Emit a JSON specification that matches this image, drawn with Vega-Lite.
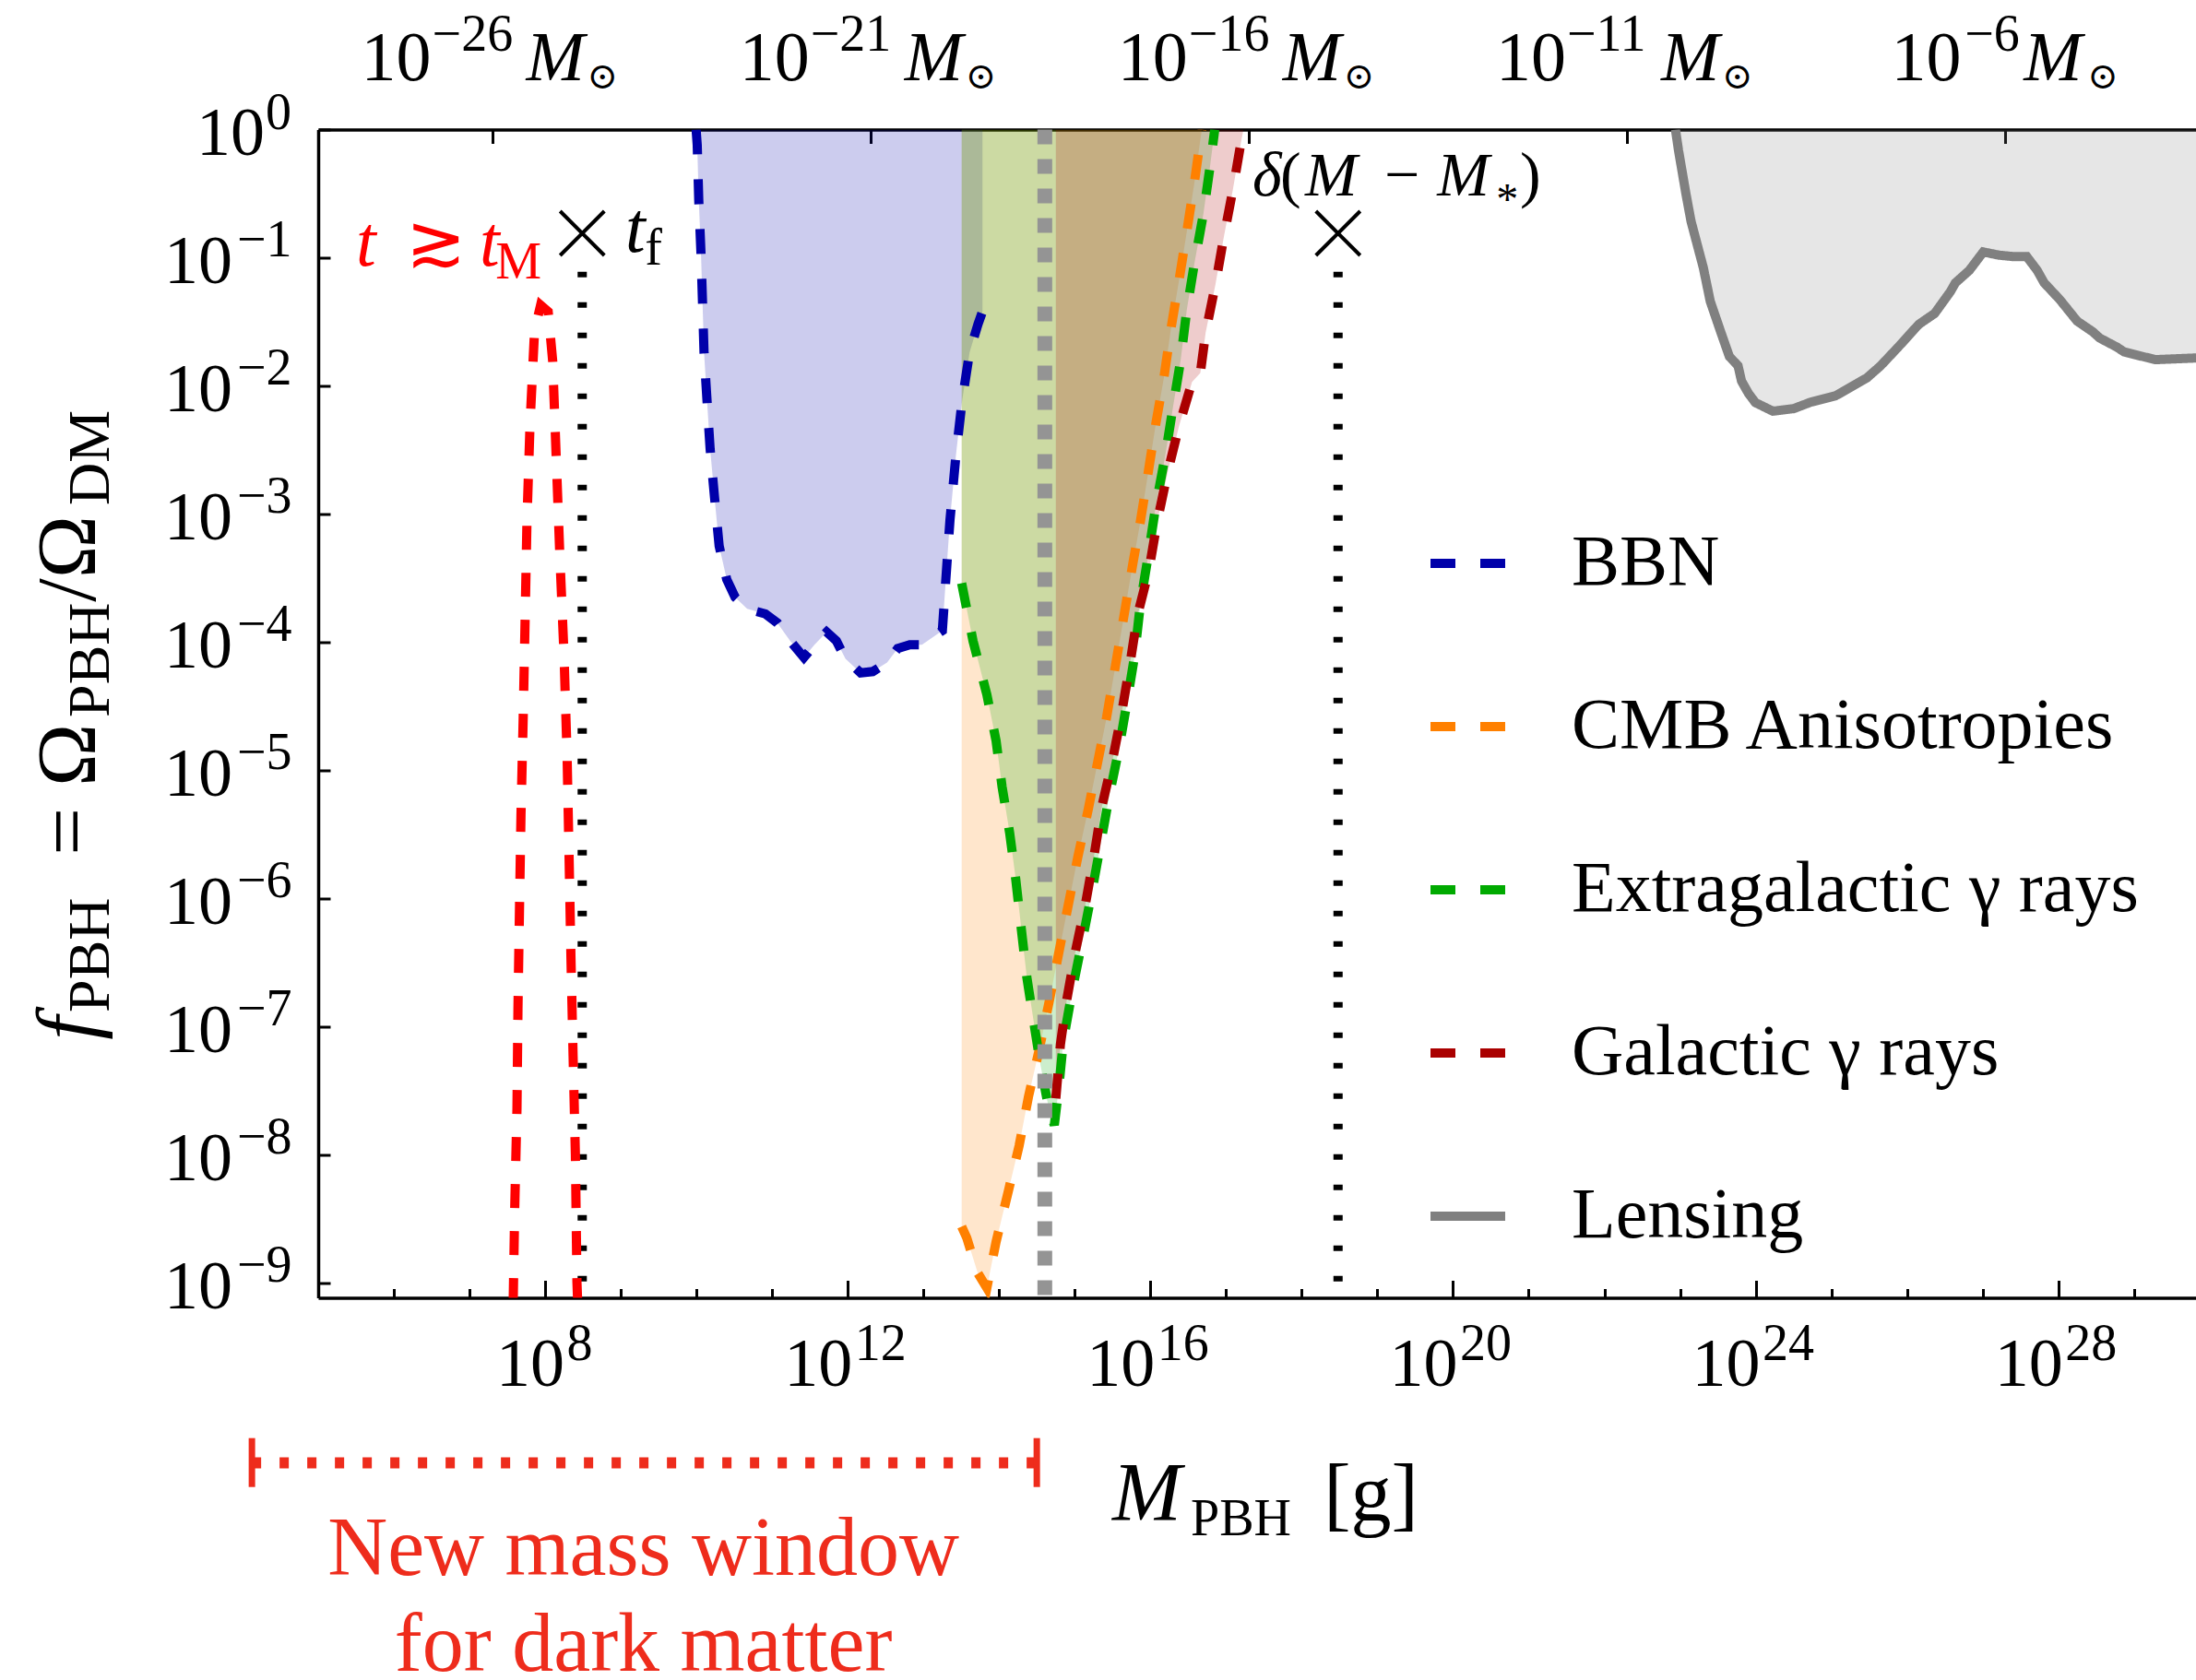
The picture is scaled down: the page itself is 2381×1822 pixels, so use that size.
{
"$schema": "https://vega.github.io/schema/vega-lite/v6.json",
"width": 2036, "height": 1267,
"autosize": {"type": "none"},
"padding": {"left": 345, "top": 140.5, "right": 0, "bottom": 414.5},
"background": "white",
"config": {
  "view": {"stroke": null},
  "font": "Liberation Serif, DejaVu Serif, serif",
  "legend": {"orient": "none", "legendX": 1201, "legendY": 425, "title": null, "symbolType": "stroke", "symbolSize": 6561, "symbolStrokeWidth": 10, "labelFontSize": 78, "labelFont": "Liberation Serif, DejaVu Serif, serif", "labelColor": "black", "rowPadding": 92, "labelOffset": 67, "padding": 0, "labelLimit": 1200}
},
"datasets": {
  "curves": [
    {"series":"BBN","m":9.89e9,"f":1},
    {"series":"BBN","m":1.023e10,"f":0.759},
    {"series":"BBN","m":1.072e10,"f":0.282},
    {"series":"BBN","m":1.148e10,"f":0.107},
    {"series":"BBN","m":1.202e10,"f":0.0447},
    {"series":"BBN","m":1.259e10,"f":0.0182},
    {"series":"BBN","m":1.38e10,"f":0.00759},
    {"series":"BBN","m":1.514e10,"f":0.00324},
    {"series":"BBN","m":1.738e10,"f":0.00132},
    {"series":"BBN","m":1.995e10,"f":0.000562},
    {"series":"BBN","m":2.51e10,"f":0.000309},
    {"series":"BBN","m":3.24e10,"f":0.000224},
    {"series":"BBN","m":4.68e10,"f":0.000182},
    {"series":"BBN","m":8.13e10,"f":0.000166},
    {"series":"BBN","m":1.175e11,"f":0.000141},
    {"series":"BBN","m":1.738e11,"f":0.000102},
    {"series":"BBN","m":2.63e11,"f":7.59e-5},
    {"series":"BBN","m":3.63e11,"f":9.55e-5},
    {"series":"BBN","m":5.25e11,"f":0.00012},
    {"series":"BBN","m":7.08e11,"f":0.000102},
    {"series":"BBN","m":9.33e11,"f":7.41e-5},
    {"series":"BBN","m":1.479e12,"f":5.75e-5},
    {"series":"BBN","m":2.14e12,"f":5.89e-5},
    {"series":"BBN","m":3.31e12,"f":6.92e-5},
    {"series":"BBN","m":4.57e12,"f":8.91e-5},
    {"series":"BBN","m":6.61e12,"f":9.55e-5},
    {"series":"BBN","m":9.55e12,"f":9.55e-5},
    {"series":"BBN","m":1.349e13,"f":0.00011},
    {"series":"BBN","m":1.778e13,"f":0.000123},
    {"series":"BBN","m":1.95e13,"f":0.000275},
    {"series":"BBN","m":2.24e13,"f":0.000891},
    {"series":"BBN","m":2.69e13,"f":0.00288},
    {"series":"BBN","m":3.24e13,"f":0.00759},
    {"series":"BBN","m":4.07e13,"f":0.0182},
    {"series":"BBN","m":5.25e13,"f":0.0302},
    {"series":"BBN","m":6.03e13,"f":0.038},
    {"series":"CMB Anisotropies","m":3.2e13,"f":2.75e-9},
    {"series":"CMB Anisotropies","m":3.74e13,"f":2.24e-9},
    {"series":"CMB Anisotropies","m":5.2e13,"f":1.2e-9},
    {"series":"CMB Anisotropies","m":6.89e13,"f":9.12e-10},
    {"series":"CMB Anisotropies","m":9.12e13,"f":2.09e-9},
    {"series":"CMB Anisotropies","m":1.318e14,"f":5.13e-9},
    {"series":"CMB Anisotropies","m":1.84e14,"f":1.175e-8},
    {"series":"CMB Anisotropies","m":2.44e14,"f":2.82e-8},
    {"series":"CMB Anisotropies","m":3.39e14,"f":6.61e-8},
    {"series":"CMB Anisotropies","m":4.57e14,"f":1.549e-7},
    {"series":"CMB Anisotropies","m":6.17e14,"f":3.8e-7},
    {"series":"CMB Anisotropies","m":8.22e14,"f":8.91e-7},
    {"series":"CMB Anisotropies","m":1.096e15,"f":2.09e-6},
    {"series":"CMB Anisotropies","m":1.514e15,"f":5.01e-6},
    {"series":"CMB Anisotropies","m":2.63e15,"f":2.57e-5},
    {"series":"CMB Anisotropies","m":3.98e15,"f":1.072e-4},
    {"series":"CMB Anisotropies","m":5.89e15,"f":4.17e-4},
    {"series":"CMB Anisotropies","m":7.41e15,"f":8.91e-4},
    {"series":"CMB Anisotropies","m":9.33e15,"f":2.09e-3},
    {"series":"CMB Anisotropies","m":1.175e16,"f":5.01e-3},
    {"series":"CMB Anisotropies","m":1.514e16,"f":0.01175},
    {"series":"CMB Anisotropies","m":1.862e16,"f":0.0275},
    {"series":"CMB Anisotropies","m":2.4e16,"f":0.0676},
    {"series":"CMB Anisotropies","m":3.02e16,"f":0.1585},
    {"series":"CMB Anisotropies","m":3.8e16,"f":0.38},
    {"series":"CMB Anisotropies","m":4.57e16,"f":0.832},
    {"series":"CMB Anisotropies","m":4.79e16,"f":1},
    {"series":"Extragalactic γ rays","m":3.2e13,"f":2.88e-4},
    {"series":"Extragalactic γ rays","m":4.52e13,"f":1.023e-4},
    {"series":"Extragalactic γ rays","m":6.89e13,"f":3.89e-5},
    {"series":"Extragalactic γ rays","m":9.12e13,"f":1.7e-5},
    {"series":"Extragalactic γ rays","m":1.096e14,"f":7.41e-6},
    {"series":"Extragalactic γ rays","m":1.38e14,"f":3.24e-6},
    {"series":"Extragalactic γ rays","m":1.66e14,"f":1.41e-6},
    {"series":"Extragalactic γ rays","m":1.95e14,"f":6.03e-7},
    {"series":"Extragalactic γ rays","m":2.32e14,"f":2.45e-7},
    {"series":"Extragalactic γ rays","m":2.88e14,"f":1.072e-7},
    {"series":"Extragalactic γ rays","m":3.55e14,"f":4.9e-8},
    {"series":"Extragalactic γ rays","m":4.47e14,"f":2.4e-8},
    {"series":"Extragalactic γ rays","m":5.37e14,"f":1.7e-8},
    {"series":"Extragalactic γ rays","m":6.17e14,"f":3.39e-8},
    {"series":"Extragalactic γ rays","m":7.08e14,"f":7.76e-8},
    {"series":"Extragalactic γ rays","m":9.46e14,"f":2.04e-7},
    {"series":"Extragalactic γ rays","m":1.259e15,"f":4.68e-7},
    {"series":"Extragalactic γ rays","m":1.66e15,"f":1.072e-6},
    {"series":"Extragalactic γ rays","m":2.19e15,"f":2.63e-6},
    {"series":"Extragalactic γ rays","m":2.88e15,"f":6.46e-6},
    {"series":"Extragalactic γ rays","m":3.85e15,"f":1.479e-5},
    {"series":"Extragalactic γ rays","m":4.9e15,"f":3.39e-5},
    {"series":"Extragalactic γ rays","m":6.17e15,"f":7.76e-5},
    {"series":"Extragalactic γ rays","m":7.41e15,"f":2.04e-4},
    {"series":"Extragalactic γ rays","m":9.33e15,"f":4.68e-4},
    {"series":"Extragalactic γ rays","m":1.175e16,"f":1.148e-3},
    {"series":"Extragalactic γ rays","m":1.567e16,"f":2.82e-3},
    {"series":"Extragalactic γ rays","m":1.995e16,"f":6.92e-3},
    {"series":"Extragalactic γ rays","m":2.51e16,"f":0.01585},
    {"series":"Extragalactic γ rays","m":3.02e16,"f":0.0389},
    {"series":"Extragalactic γ rays","m":3.8e16,"f":0.0891},
    {"series":"Extragalactic γ rays","m":5.01e16,"f":0.219},
    {"series":"Extragalactic γ rays","m":6.1e16,"f":0.501},
    {"series":"Extragalactic γ rays","m":7.08e16,"f":1},
    {"series":"Galactic γ rays","m":5.62e14,"f":2.75e-8},
    {"series":"Galactic γ rays","m":6.46e14,"f":7.24e-8},
    {"series":"Galactic γ rays","m":7.85e14,"f":1.622e-7},
    {"series":"Galactic γ rays","m":1.023e15,"f":3.89e-7},
    {"series":"Galactic γ rays","m":1.38e15,"f":8.91e-7},
    {"series":"Galactic γ rays","m":1.82e15,"f":2.24e-6},
    {"series":"Galactic γ rays","m":2.29e15,"f":5.25e-6},
    {"series":"Galactic γ rays","m":3.16e15,"f":1.202e-5},
    {"series":"Galactic γ rays","m":4.07e15,"f":2.57e-5},
    {"series":"Galactic γ rays","m":5.37e15,"f":6.76e-5},
    {"series":"Galactic γ rays","m":6.76e15,"f":1.622e-4},
    {"series":"Galactic γ rays","m":9.55e15,"f":3.63e-4},
    {"series":"Galactic γ rays","m":1.23e16,"f":8.71e-4},
    {"series":"Galactic γ rays","m":1.698e16,"f":2.14e-3},
    {"series":"Galactic γ rays","m":2.4e16,"f":4.9e-3},
    {"series":"Galactic γ rays","m":3.55e16,"f":0.01072},
    {"series":"Galactic γ rays","m":4.57e16,"f":0.01259},
    {"series":"Galactic γ rays","m":5.37e16,"f":0.026},
    {"series":"Galactic γ rays","m":7.24e16,"f":0.0617},
    {"series":"Galactic γ rays","m":9.33e16,"f":0.1445},
    {"series":"Galactic γ rays","m":1.23e17,"f":0.339},
    {"series":"Galactic γ rays","m":1.585e17,"f":0.813},
    {"series":"Galactic γ rays","m":1.698e17,"f":1},
    {"series":"Lensing","m":8.71e22,"f":1},
    {"series":"Lensing","m":9.55e22,"f":0.689},
    {"series":"Lensing","m":1.197e23,"f":0.316},
    {"series":"Lensing","m":1.4e23,"f":0.192},
    {"series":"Lensing","m":2.03e23,"f":0.0839},
    {"series":"Lensing","m":2.51e23,"f":0.0457},
    {"series":"Lensing","m":3.45e23,"f":0.0264},
    {"series":"Lensing","m":4.49e23,"f":0.01694},
    {"series":"Lensing","m":5.85e23,"f":0.01435},
    {"series":"Lensing","m":6.5e23,"f":0.01089},
    {"series":"Lensing","m":8.04e23,"f":0.00873},
    {"series":"Lensing","m":9.91e23,"f":0.0074},
    {"series":"Lensing","m":1.69e24,"f":0.00634},
    {"series":"Lensing","m":3.18e24,"f":0.00664},
    {"series":"Lensing","m":5.41e24,"f":0.00748},
    {"series":"Lensing","m":1.135e25,"f":0.00836},
    {"series":"Lensing","m":2.94e25,"f":0.01151},
    {"series":"Lensing","m":4.49e25,"f":0.01435},
    {"series":"Lensing","m":7.62e25,"f":0.02},
    {"series":"Lensing","m":1.435e26,"f":0.0302},
    {"series":"Lensing","m":2.32e26,"f":0.0367},
    {"series":"Lensing","m":3.73e26,"f":0.0541},
    {"series":"Lensing","m":4.37e26,"f":0.0637},
    {"series":"Lensing","m":6.67e26,"f":0.0796},
    {"series":"Lensing","m":1.02e27,"f":0.1109},
    {"series":"Lensing","m":1.64e27,"f":0.1047},
    {"series":"Lensing","m":2.51e27,"f":0.1021},
    {"series":"Lensing","m":3.83e27,"f":0.1021},
    {"series":"Lensing","m":5.26e27,"f":0.0796},
    {"series":"Lensing","m":6.5e27,"f":0.0637},
    {"series":"Lensing","m":1.047e28,"f":0.0471},
    {"series":"Lensing","m":1.774e28,"f":0.032},
    {"series":"Lensing","m":2.86e28,"f":0.0264},
    {"series":"Lensing","m":3.53e28,"f":0.0236},
    {"series":"Lensing","m":6.0e28,"f":0.02},
    {"series":"Lensing","m":7.41e28,"f":0.0184},
    {"series":"Lensing","m":1.92e29,"f":0.016},
    {"series":"Lensing","m":6.7e29,"f":0.0165}
  ],
  "tm": [
    {"m":3.78e7,"f":7.08e-10},
    {"m":3.96e7,"f":3.8e-9},
    {"m":4.24e7,"f":2.29e-8},
    {"m":4.37e7,"f":1.38e-7},
    {"m":4.57e7,"f":7.76e-7},
    {"m":4.79e7,"f":4.47e-6},
    {"m":5.13e7,"f":2.63e-5},
    {"m":5.43e7,"f":1.479e-4},
    {"m":5.75e7,"f":8.91e-4},
    {"m":6.31e7,"f":5.01e-3},
    {"m":7.24e7,"f":0.0269},
    {"m":8.71e7,"f":0.0427},
    {"m":1.096e8,"f":0.038},
    {"m":1.259e8,"f":0.01549},
    {"m":1.4e8,"f":2.75e-3},
    {"m":1.567e8,"f":4.57e-4},
    {"m":1.778e8,"f":7.76e-5},
    {"m":1.95e8,"f":1.288e-5},
    {"m":2.07e8,"f":2.14e-6},
    {"m":2.19e8,"f":3.55e-7},
    {"m":2.34e8,"f":5.89e-8},
    {"m":2.51e8,"f":1.0e-8},
    {"m":2.63e8,"f":1.02e-9},
    {"m":2.69e8,"f":7.08e-10}
  ],
  "botlab": [
    {"m":1e8,"f":7.64e-10,"exp":"8","n":1},
    {"m":1e12,"f":7.64e-10,"exp":"12","n":2},
    {"m":1e16,"f":7.64e-10,"exp":"16","n":2},
    {"m":1e20,"f":7.64e-10,"exp":"20","n":2},
    {"m":1e24,"f":7.64e-10,"exp":"24","n":2},
    {"m":1e28,"f":7.64e-10,"exp":"28","n":2}
  ],
  "leftlab": [
    {"m":1e5,"f":1,"exp":"0","n":1},
    {"m":1e5,"f":0.1,"exp":"−1","n":2},
    {"m":1e5,"f":0.01,"exp":"−2","n":2},
    {"m":1e5,"f":0.001,"exp":"−3","n":2},
    {"m":1e5,"f":0.0001,"exp":"−4","n":2},
    {"m":1e5,"f":1e-5,"exp":"−5","n":2},
    {"m":1e5,"f":1e-6,"exp":"−6","n":2},
    {"m":1e5,"f":1e-7,"exp":"−7","n":2},
    {"m":1e5,"f":1e-8,"exp":"−8","n":2},
    {"m":1e5,"f":1e-9,"exp":"−9","n":2}
  ],
  "toplab": [
    {"m":1.989e7,"f":1,"exp":"−26","n":2},
    {"m":1.989e12,"f":1,"exp":"−21","n":2},
    {"m":1.989e17,"f":1,"exp":"−16","n":2},
    {"m":1.989e22,"f":1,"exp":"−11","n":2},
    {"m":1.989e27,"f":1,"exp":"−6","n":1}
  ]
},
"layer": [
  {
    "encoding": {
      "x": {"field": "m", "type": "quantitative", "title": null,
        "scale": {"type": "log", "domain": [1e5, 6.61e29], "nice": false},
        "axis": {"orient": "bottom", "values": [1e5,1e6,1e7,1e8,1e9,1e10,1e11,1e12,1e13,1e14,1e15,1e16,1e17,1e18,1e19,1e20,1e21,1e22,1e23,1e24,1e25,1e26,1e27,1e28,1e29],
          "labels": false,
          "tickSize": {"condition": {"test": "datum.value==1e8||datum.value==1e12||datum.value==1e16||datum.value==1e20||datum.value==1e24||datum.value==1e28", "value": -19}, "value": -10},
          "tickWidth": 3, "tickColor": "black", "domainColor": "black", "domainWidth": 3.5, "grid": false}},
      "y": {"field": "f", "type": "quantitative", "title": null,
        "scale": {"type": "log", "domain": [7.64e-10, 1], "nice": false},
        "axis": {"orient": "left", "values": [1,0.1,0.01,0.001,0.0001,1e-5,1e-6,1e-7,1e-8,1e-9],
          "labels": false,
          "tickSize": -13, "tickWidth": 3, "tickColor": "black", "domainColor": "black", "domainWidth": 3.5, "grid": false}}
    },
    "layer": [
      {"data": {"name": "curves"}, "transform": [{"filter": "datum.series=='BBN'"}],
       "mark": {"type": "area", "color": "#0000AA", "fillOpacity": 0.2, "clip": true}, "encoding": {"y2": {"datum": 1}}},
      {"data": {"name": "curves"}, "transform": [{"filter": "datum.series=='CMB Anisotropies'"}],
       "mark": {"type": "area", "color": "#FF8000", "fillOpacity": 0.2, "clip": true}, "encoding": {"y2": {"datum": 1}}},
      {"data": {"name": "curves"}, "transform": [{"filter": "datum.series=='Extragalactic γ rays'"}],
       "mark": {"type": "area", "color": "#00AA00", "fillOpacity": 0.2, "clip": true}, "encoding": {"y2": {"datum": 1}}},
      {"data": {"name": "curves"}, "transform": [{"filter": "datum.series=='Galactic γ rays'"}],
       "mark": {"type": "area", "color": "#AA0000", "fillOpacity": 0.2, "clip": true}, "encoding": {"y2": {"datum": 1}}},
      {"data": {"name": "curves"}, "transform": [{"filter": "datum.series=='Lensing'"}],
       "mark": {"type": "area", "color": "#808080", "fillOpacity": 0.2, "clip": true}, "encoding": {"y2": {"datum": 1}}},
      {"data": {"values": [{"m": 3.09e8, "f": 0.0776, "f2": 7.64e-10}, {"m": 3.02e18, "f": 0.0776, "f2": 7.64e-10}]},
       "mark": {"type": "rule", "color": "black", "strokeWidth": 10, "strokeDash": [6, 27]},
       "encoding": {"y2": {"field": "f2"}}},
      {"data": {"name": "curves"},
       "mark": {"type": "line", "strokeWidth": 10, "clip": true},
       "encoding": {
         "color": {"field": "series", "type": "nominal",
           "scale": {"domain": ["BBN", "CMB Anisotropies", "Extragalactic γ rays", "Galactic γ rays", "Lensing"], "range": ["#0000AA", "#FF8000", "#00AA00", "#AA0000", "#808080"]}},
         "strokeDash": {"field": "series", "type": "nominal",
           "scale": {"domain": ["BBN", "CMB Anisotropies", "Extragalactic γ rays", "Galactic γ rays", "Lensing"], "range": [[27, 27], [27, 27], [27, 27], [27, 27], [1, 0]]}}
       }},
      {"data": {"name": "tm"},
       "mark": {"type": "line", "color": "#FF0000", "strokeWidth": 10, "strokeDash": [26, 25], "clip": true}},
      {"data": {"values": [{"m": 4.02e14, "f": 1, "f2": 7.64e-10}]},
       "mark": {"type": "rule", "color": "#949494", "strokeWidth": 16, "strokeDash": [16, 16]},
       "encoding": {"y2": {"field": "f2"}}},
      {"data": {"values": [{"m": 3.09e8, "f": 0.155}, {"m": 3.02e18, "f": 0.155}]},
       "mark": {"type": "point", "shape": "M-1,-1L1,1M-1,1L1,-1", "size": 2304, "filled": false, "stroke": "black", "strokeWidth": 4, "opacity": 1}},
      {"data": {"name": "botlab"}, "transform": [{"filter": "datum.n==1"}],
       "mark": {"type": "text", "text": "10", "fontSize": 74, "color": "black", "align": "right", "baseline": "alphabetic", "dx": 21, "dy": 95.5}},
      {"data": {"name": "botlab"}, "transform": [{"filter": "datum.n==2"}],
       "mark": {"type": "text", "text": "10", "fontSize": 74, "color": "black", "align": "right", "baseline": "alphabetic", "dx": 5, "dy": 95.5}},
      {"data": {"name": "botlab"}, "transform": [{"filter": "datum.n==1"}],
       "mark": {"type": "text", "fontSize": 56, "color": "black", "align": "left", "baseline": "alphabetic", "dx": 23.5, "dy": 67.5},
       "encoding": {"text": {"field": "exp"}}},
      {"data": {"name": "botlab"}, "transform": [{"filter": "datum.n==2"}],
       "mark": {"type": "text", "fontSize": 56, "color": "black", "align": "left", "baseline": "alphabetic", "dx": 7.5, "dy": 67.5},
       "encoding": {"text": {"field": "exp"}}},
      {"data": {"name": "leftlab"}, "transform": [{"filter": "datum.n==1"}],
       "mark": {"type": "text", "text": "10", "fontSize": 74, "color": "black", "align": "right", "baseline": "alphabetic", "dx": -58, "dy": 27.5}},
      {"data": {"name": "leftlab"}, "transform": [{"filter": "datum.n==2"}],
       "mark": {"type": "text", "text": "10", "fontSize": 74, "color": "black", "align": "right", "baseline": "alphabetic", "dx": -93, "dy": 27.5}},
      {"data": {"name": "leftlab"}, "transform": [{"filter": "datum.n==1"}],
       "mark": {"type": "text", "fontSize": 56, "color": "black", "align": "left", "baseline": "alphabetic", "dx": -57, "dy": -1},
       "encoding": {"text": {"field": "exp"}}},
      {"data": {"name": "leftlab"}, "transform": [{"filter": "datum.n==2"}],
       "mark": {"type": "text", "fontSize": 56, "color": "black", "align": "left", "baseline": "alphabetic", "dx": -88, "dy": -1},
       "encoding": {"text": {"field": "exp"}}},
      {"data": {"name": "toplab"}, "transform": [{"filter": "datum.n==2"}],
       "mark": {"type": "text", "text": "10", "fontSize": 76, "color": "black", "align": "right", "baseline": "alphabetic", "dx": -66, "dy": -53.5}},
      {"data": {"name": "toplab"}, "transform": [{"filter": "datum.n==1"}],
       "mark": {"type": "text", "text": "10", "fontSize": 76, "color": "black", "align": "right", "baseline": "alphabetic", "dx": -47.6, "dy": -53.5}},
      {"data": {"name": "toplab"}, "transform": [{"filter": "datum.n==2"}],
       "mark": {"type": "text", "fontSize": 56, "color": "black", "align": "left", "baseline": "alphabetic", "dx": -65, "dy": -85.5},
       "encoding": {"text": {"field": "exp"}}},
      {"data": {"name": "toplab"}, "transform": [{"filter": "datum.n==1"}],
       "mark": {"type": "text", "fontSize": 56, "color": "black", "align": "left", "baseline": "alphabetic", "dx": -44, "dy": -85.5},
       "encoding": {"text": {"field": "exp"}}},
      {"data": {"name": "toplab"}, "transform": [{"filter": "datum.n==2"}],
       "mark": {"type": "text", "text": "M", "fontSize": 76, "fontStyle": "italic", "color": "black", "align": "left", "baseline": "alphabetic", "dx": 37, "dy": -53.5}},
      {"data": {"name": "toplab"}, "transform": [{"filter": "datum.n==1"}],
       "mark": {"type": "text", "text": "M", "fontSize": 76, "fontStyle": "italic", "color": "black", "align": "left", "baseline": "alphabetic", "dx": 20, "dy": -53.5}},
      {"data": {"name": "toplab"}, "transform": [{"filter": "datum.n==2"}],
       "mark": {"type": "text", "text": "⊙", "fontSize": 40, "color": "black", "align": "left", "baseline": "alphabetic", "dx": 103, "dy": -45}},
      {"data": {"name": "toplab"}, "transform": [{"filter": "datum.n==1"}],
       "mark": {"type": "text", "text": "⊙", "fontSize": 40, "color": "black", "align": "left", "baseline": "alphabetic", "dx": 89, "dy": -45}},
      {"data": {"values": [{"m": 3.17e5, "f": 0.0869, "text": "t"}, {"m": 1.36e7, "f": 0.0869, "text": "t"}]},
       "mark": {"type": "text", "fontSize": 78, "fontStyle": "italic", "color": "#FF0000", "align": "left", "baseline": "alphabetic"},
       "encoding": {"text": {"field": "text"}}},
      {"data": {"values": [{"m": 1.44e6, "f": 0.0869, "text": "≳"}]},
       "mark": {"type": "text", "fontSize": 78, "color": "#FF0000", "align": "left", "baseline": "alphabetic"},
       "encoding": {"text": {"field": "text"}}},
      {"data": {"values": [{"m": 2.2e7, "f": 0.0689, "text": "M"}]},
       "mark": {"type": "text", "fontSize": 56, "color": "#FF0000", "align": "left", "baseline": "alphabetic"},
       "encoding": {"text": {"field": "text"}}},
      {"data": {"values": [{"m": 1.15e9, "f": 0.1114, "text": "t"}]},
       "mark": {"type": "text", "fontSize": 78, "fontStyle": "italic", "color": "black", "align": "left", "baseline": "alphabetic"},
       "encoding": {"text": {"field": "text"}}},
      {"data": {"values": [{"m": 2.08e9, "f": 0.0883, "text": "f"}]},
       "mark": {"type": "text", "fontSize": 56, "color": "black", "align": "left", "baseline": "alphabetic"},
       "encoding": {"text": {"field": "text"}}},
      {"data": {"values": [{"m": 2.24e17, "f": 0.306, "text": "δ"}, {"m": 1.11e18, "f": 0.306, "text": "M"}, {"m": 6.15e19, "f": 0.306, "text": "M"}]},
       "mark": {"type": "text", "fontSize": 68, "fontStyle": "italic", "color": "black", "align": "left", "baseline": "alphabetic"},
       "encoding": {"text": {"field": "text"}}},
      {"data": {"values": [{"m": 5.2e17, "f": 0.306, "text": "("}, {"m": 1.24e19, "f": 0.306, "text": "−"}, {"m": 7.69e20, "f": 0.306, "text": ")"}]},
       "mark": {"type": "text", "fontSize": 68, "color": "black", "align": "left", "baseline": "alphabetic"},
       "encoding": {"text": {"field": "text"}}},
      {"data": {"values": [{"m": 3.71e20, "f": 0.22, "text": "*"}]},
       "mark": {"type": "text", "fontSize": 48, "color": "black", "align": "left", "baseline": "alphabetic"},
       "encoding": {"text": {"field": "text"}}},
      {"data": {"values": [{"m": 3.14e15, "f": 1.39e-11, "text": "M"}]},
       "mark": {"type": "text", "fontSize": 90, "fontStyle": "italic", "color": "black", "align": "left", "baseline": "alphabetic"},
       "encoding": {"text": {"field": "text"}}},
      {"data": {"values": [{"m": 3.41e16, "f": 1.08e-11, "text": "PBH"}]},
       "mark": {"type": "text", "fontSize": 56, "color": "black", "align": "left", "baseline": "alphabetic"},
       "encoding": {"text": {"field": "text"}}},
      {"data": {"values": [{"m": 1.95e18, "f": 1.39e-11, "text": "[g]"}]},
       "mark": {"type": "text", "fontSize": 88, "color": "black", "align": "left", "baseline": "alphabetic"},
       "encoding": {"text": {"field": "text"}}},
      {"data": {"values": [{"m": 112, "f": 7.87e-8, "text": "f"}]},
       "mark": {"type": "text", "fontSize": 92, "fontStyle": "italic", "angle": 270, "color": "black", "align": "left", "baseline": "alphabetic"},
       "encoding": {"text": {"field": "text"}}},
      {"data": {"values": [{"m": 112, "f": 2.16e-6, "text": "= Ω"}, {"m": 112, "f": 2.06e-4, "text": "/Ω"}]},
       "mark": {"type": "text", "fontSize": 92, "angle": 270, "color": "black", "align": "left", "baseline": "alphabetic"},
       "encoding": {"text": {"field": "text"}}},
      {"data": {"values": [{"m": 171, "f": 1.29e-7, "text": "PBH"}, {"m": 171, "f": 2.59e-5, "text": "PBH"}, {"m": 171, "f": 1.17e-3, "text": "DM"}]},
       "mark": {"type": "text", "fontSize": 64, "angle": 270, "color": "black", "align": "left", "baseline": "alphabetic"},
       "encoding": {"text": {"field": "text"}}},
      {"data": {"values": [{"m": 1.33e4, "m2": 3.15e14, "f": 3.93e-11}]},
       "mark": {"type": "rule", "color": "#EE2C1C", "strokeWidth": 12, "strokeDash": [10, 20]},
       "encoding": {"x2": {"field": "m2"}}},
      {"data": {"values": [{"m": 1.33e4, "f": 6.14e-11, "f2": 2.55e-11}, {"m": 3.15e14, "f": 6.14e-11, "f2": 2.55e-11}]},
       "mark": {"type": "rule", "color": "#EE2C1C", "strokeWidth": 7},
       "encoding": {"y2": {"field": "f2"}}},
      {"data": {"values": [{"m": 1.99e9, "f": 5.28e-12, "text": "New mass window"}, {"m": 1.99e9, "f": 9.4e-13, "text": "for dark matter"}]},
       "mark": {"type": "text", "fontSize": 90, "color": "#EE2C1C", "align": "center", "baseline": "alphabetic"},
       "encoding": {"text": {"field": "text"}}}
    ]
  },
  {
    "data": {"values": [{"msun": 1e-26}, {"msun": 1e-6}]},
    "mark": {"type": "point", "opacity": 0},
    "encoding": {
      "x": {"field": "msun", "type": "quantitative", "title": null,
        "scale": {"type": "log", "domain": [5.028e-29, 3.323e-4], "nice": false},
        "axis": {"orient": "top", "values": [1e-26, 1e-21, 1e-16, 1e-11, 1e-6], "labels": false,
          "tickSize": -15, "tickWidth": 3, "tickColor": "black", "domainColor": "black", "domainWidth": 3.5, "grid": false}}
    }
  }
],
"resolve": {"scale": {"x": "independent"}, "axis": {"x": "independent"}}
}
